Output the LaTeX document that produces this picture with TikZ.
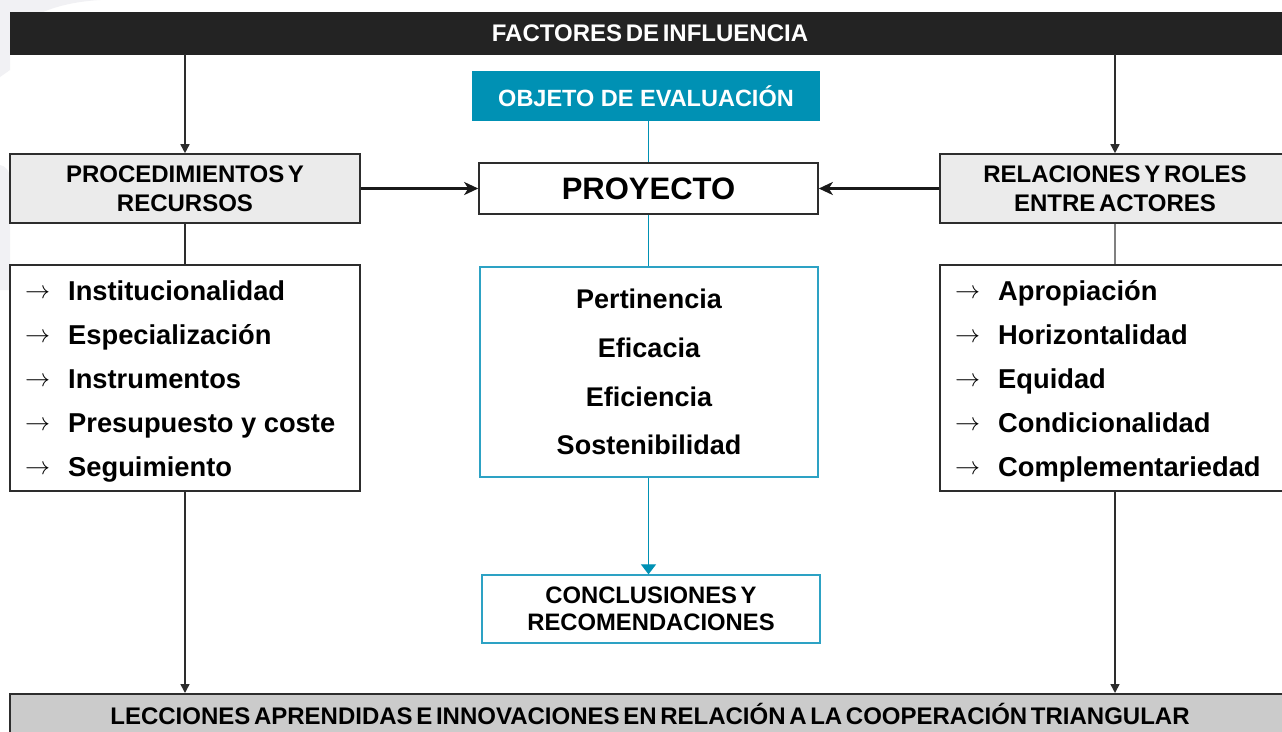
\documentclass[tikz,border=0pt]{standalone}
\usepackage{fontspec}
\setmainfont{Liberation Sans}
\newfontfamily\ttlfont{Liberation Sans}[WordSpace=0.55]
\usetikzlibrary{arrows.meta}
\definecolor{tealA}{RGB}{0,145,180}
\definecolor{tealB}{RGB}{45,162,196}
\definecolor{darkline}{RGB}{45,45,45}
\definecolor{barfill}{RGB}{35,35,35}
\definecolor{lgray}{RGB}{235,235,235}
\definecolor{mgray}{RGB}{203,203,203}
\definecolor{wmark}{RGB}{241,241,244}
\newcommand{\listarrow}{\scalebox{2.5}{$\rightarrow$}}
\tikzset{
  ttl/.style={font=\fontsize{24}{28.5}\selectfont\ttlfont\bfseries},
  graybox/.style={draw=darkline,line width=1.6pt,fill=lgray,inner sep=0pt,align=center,
    minimum width=350pt,minimum height=69pt,ttl},
  listbox/.style={draw=darkline,line width=1.6pt,fill=white,inner sep=0pt,
    minimum width=350pt,minimum height=226pt},
  itemtxt/.style={anchor=base west,inner sep=0pt,font=\fontsize{27.3}{30}\selectfont\bfseries},
  itemarr/.style={anchor=base,inner sep=0pt},
  crittxt/.style={anchor=base,inner sep=0pt,font=\fontsize{27}{30}\selectfont\bfseries},
  conn/.style={draw=darkline,line width=1.6pt},
  connarr/.style={conn,-{Triangle[length=9pt,width=9pt]}},
  thickarr/.style={draw=black!90,line width=3.2pt,-{Stealth[length=14pt,width=13pt,inset=4pt]}},
  tealline/.style={draw=tealA,line width=1.2pt},
  tealarr/.style={tealline,-{Triangle[length=10pt,width=15pt]}}
}
\begin{document}
\begin{tikzpicture}[x=1pt,y=-1pt]
\useasboundingbox (0,0) rectangle (1282,731);
\fill[white] (0,0) rectangle (1282,731);
% faint watermark at left edge
\fill[wmark] (0,0) -- (100,0) .. controls (50,3) and (14,20) .. (10,48) -- (10,70) -- (0,77) -- cycle;
\fill[wmark] (0,165) .. controls (5,166) and (10,170) .. (10,180) -- (10,290) -- (0,290) -- cycle;

% top bar
\node[fill=barfill,draw=barfill,minimum width=1280pt,minimum height=42pt,inner sep=0pt,
  text=white,ttl] (top) at (650,33) {FACTORES DE INFLUENCIA};

% object of evaluation
\node[fill=tealA,minimum width=348pt,minimum height=50pt,inner sep=0pt,text=white,
  font=\fontsize{23.5}{28}\selectfont\bfseries] (obj) at (646,96) {OBJETO DE EVALUACIÓN};

% side boxes
\node[graybox] (proc) at (185,188.5) {PROCEDIMIENTOS Y\\RECURSOS};
\node[graybox] (rel) at (1115,188.5) {RELACIONES Y ROLES\\ENTRE ACTORES};

% project
\node[draw=darkline,line width=1.6pt,fill=white,minimum width=339pt,minimum height=51pt,
  inner sep=0pt,font=\fontsize{31}{34}\selectfont\bfseries] (proy) at (648.5,188.5) {PROYECTO};

% criteria
\node[draw=tealB,line width=1.3pt,fill=white,minimum width=338pt,minimum height=210pt,
  inner sep=0pt] (crit) at (649,372) {};
\node[crittxt] (c1) at (649,308) {Pertinencia};
\node[crittxt] (c2) at (649,357) {Eficacia};
\node[crittxt] (c3) at (649,406) {Eficiencia};
\node[crittxt] (c4) at (649,454) {Sostenibilidad};

% conclusions
\node[draw=tealB,line width=1.3pt,fill=white,minimum width=338pt,minimum height=68pt,
  inner sep=0pt,align=center,font=\fontsize{23.8}{26.7}\selectfont\ttlfont\bfseries] (concl) at (651,609)
  {CONCLUSIONES Y\\RECOMENDACIONES};

% lists
\node[listbox] (ll) at (185,378) {};
\node[listbox] (lr) at (1115,378) {};
\node[itemarr] (la1) at (37.5,298) {\listarrow};
\node[itemarr] (la2) at (37.5,342) {\listarrow};
\node[itemarr] (la3) at (37.5,386) {\listarrow};
\node[itemarr] (la4) at (37.5,430) {\listarrow};
\node[itemarr] (la5) at (37.5,474) {\listarrow};
\node[itemtxt] (lt1) at (68,300) {Institucionalidad};
\node[itemtxt] (lt2) at (68,344) {Especialización};
\node[itemtxt] (lt3) at (68,388) {Instrumentos};
\node[itemtxt] (lt4) at (68,432) {Presupuesto y coste};
\node[itemtxt] (lt5) at (68,476) {Seguimiento};
\node[itemarr] (ra1) at (967.5,298) {\listarrow};
\node[itemarr] (ra2) at (967.5,342) {\listarrow};
\node[itemarr] (ra3) at (967.5,386) {\listarrow};
\node[itemarr] (ra4) at (967.5,430) {\listarrow};
\node[itemarr] (ra5) at (967.5,474) {\listarrow};
\node[itemtxt] (rt1) at (998,300) {Apropiación};
\node[itemtxt] (rt2) at (998,344) {Horizontalidad};
\node[itemtxt] (rt3) at (998,388) {Equidad};
\node[itemtxt] (rt4) at (998,432) {Condicionalidad};
\node[itemtxt] (rt5) at (998,476) {Complementariedad};

% bottom bar
\node[draw=darkline,line width=1.6pt,fill=mgray,minimum width=1280pt,minimum height=52pt,
  inner sep=0pt,ttl,anchor=north] (bot) at (650,693) {\raisebox{12pt}{LECCIONES APRENDIDAS E INNOVACIONES EN RELACIÓN A LA COOPERACIÓN TRIANGULAR}};

% connectors
\draw[connarr] (top.south -| proc.north) -- (proc.north);
\draw[connarr] (top.south -| rel.north) -- (rel.north);
\draw[conn] (proc.south) -- (ll.north);
\draw[conn,draw=gray] (rel.south) -- (lr.north);
\draw[connarr] (ll.south) -- (ll.south |- bot.north);
\draw[connarr] (lr.south) -- (lr.south |- bot.north);
\draw[thickarr] (proc.east) -- (proy.west);
\draw[thickarr] (rel.west) -- (proy.east);
\draw[tealline] (obj.south -| proy.north) -- (proy.north);
\draw[tealline] (proy.south) -- (proy.south |- crit.north);
\draw[tealarr] (crit.south -| proy.south) -- (proy.south |- concl.north);
\end{tikzpicture}
\end{document}
